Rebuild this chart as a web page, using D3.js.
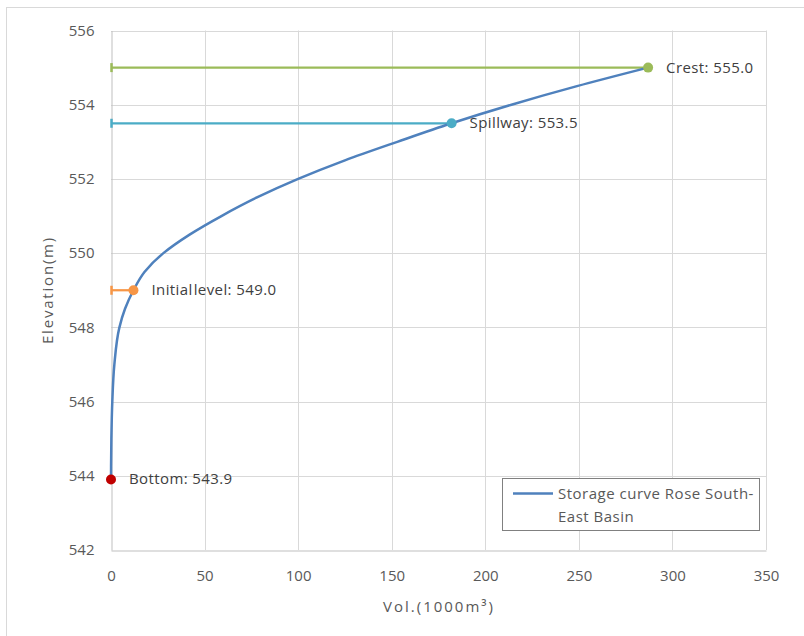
<!DOCTYPE html>
<html>
<head>
<meta charset="utf-8">
<script src="https://cdn.jsdelivr.net/npm/d3@7/dist/d3.min.js"></script>
<style>
  html, body { margin: 0; padding: 0; background: #fff; }
  svg { display: block; font-family: "Open Sans", "Noto Sans", sans-serif; }
</style>
</head>
<body>
<svg id="chart" width="804" height="636"></svg>
<script>
// Storage curve: volume (1000 m³) vs elevation (m)
const curveElev = [543.9, 545, 546, 547, 548, 548.5, 549, 549.5, 550, 550.5, 551, 551.5, 552, 552.5, 553, 553.5, 554, 554.5, 555];
const curveVol  = [0, 0.2, 0.7, 1.8, 4.5, 7.5, 12, 18, 28, 42, 59, 78, 100, 125, 153, 182, 214, 249, 287];

// Characteristic levels
const levelNames = ["Crest", "Spillway", "Initial level", "Bottom"];
const levelVol   = [287, 182, 12, 0];
const levelElev  = [555.0, 553.5, 549.0, 543.9];
const levelColor = ["#9BBB59", "#4BACC6", "#F79646", "#C00000"];
const levelLine  = [true, true, true, false];

const xTicks = [0, 50, 100, 150, 200, 250, 300, 350];
const yTicks = [542, 544, 546, 548, 550, 552, 554, 556];
const legendLines = ["Storage curve Rose South-", "East Basin"];

const svg = d3.select("#chart");

// outer chart frame
svg.append("rect").attr("x", 6.5).attr("y", 7.5).attr("width", 900).attr("height", 700)
  .attr("fill", "none").attr("stroke", "#d9d9d9").attr("stroke-width", 1);

const x = d3.scaleLinear().domain([0, 350]).range([111, 766]);
const y = d3.scaleLinear().domain([542, 556]).range([550, 30.5]);

// grid
const grid = svg.append("g");
grid.selectAll("line.v").data(xTicks.slice(1)).join("line")
  .attr("x1", d => Math.round(x(d)) + 0.5).attr("x2", d => Math.round(x(d)) + 0.5)
  .attr("y1", y(556)).attr("y2", y(542))
  .attr("stroke", "#d9d9d9").attr("stroke-width", 1);
grid.selectAll("line.h").data(yTicks.slice(1)).join("line")
  .attr("y1", d => Math.round(y(d)) + 0.5).attr("y2", d => Math.round(y(d)) + 0.5)
  .attr("x1", x(0)).attr("x2", x(350))
  .attr("stroke", "#d9d9d9").attr("stroke-width", 1);

// axes
const xAxis = svg.append("g").attr("transform", `translate(0,${Math.round(y(542)) + 0.5})`)
  .call(d3.axisBottom(x).tickValues(xTicks).tickSize(0).tickPadding(20));
const yAxis = svg.append("g").attr("transform", `translate(${Math.round(x(0)) + 0.5},0)`)
  .call(d3.axisLeft(y).tickValues(yTicks).tickSize(0).tickPadding(17));
[xAxis, yAxis].forEach(a => {
  a.select(".domain").attr("stroke", "#bfbfbf").attr("stroke-width", 1);
  a.selectAll("text").attr("fill", "#595959").style("font-size", "15px")
    .style("font-family", "'Open Sans', sans-serif");
});

// axis titles
svg.append("text").attr("x", 439).attr("y", 612).attr("text-anchor", "middle")
  .attr("fill", "#595959").style("font-size", "15px").style("letter-spacing", "2px")
  .text("Vol.(1000m³)");
svg.append("text").attr("transform", "translate(53,290) rotate(-90)")
  .attr("text-anchor", "middle").attr("fill", "#595959").style("font-size", "15px")
  .style("letter-spacing", "1.8px")
  .text("Elevation(m)");

// horizontal level lines from the axis to each point
const lv = levelNames.map((n, i) => ({ name: n, vol: levelVol[i], elev: levelElev[i], color: levelColor[i], line: levelLine[i] }));
const lvg = svg.append("g");
lv.filter(d => d.line).forEach(d => {
  lvg.append("line").attr("x1", x(0)).attr("x2", x(d.vol))
    .attr("y1", y(d.elev)).attr("y2", y(d.elev))
    .attr("stroke", d.color).attr("stroke-width", 2.25);
  lvg.append("line").attr("x1", x(0) + 0.5).attr("x2", x(0) + 0.5)
    .attr("y1", y(d.elev) - 4.5).attr("y2", y(d.elev) + 4.5)
    .attr("stroke", d.color).attr("stroke-width", 2.5);
});

// storage curve
const pts = curveVol.map((v, i) => [v, curveElev[i]]);
svg.append("path").datum(pts)
  .attr("d", d3.line().x(d => x(d[0])).y(d => y(d[1])).curve(d3.curveMonotoneY))
  .attr("fill", "none").attr("stroke", "#4F81BD").attr("stroke-width", 2.5)
  .attr("stroke-linecap", "round");

// level markers and labels
lv.forEach(d => {
  svg.append("circle").attr("cx", x(d.vol)).attr("cy", y(d.elev)).attr("r", 5)
    .attr("fill", d.color);
  const t = svg.append("text").attr("x", x(d.vol) + 18).attr("y", y(d.elev) + 5)
    .attr("fill", "#404040").style("font-size", "15px").style("letter-spacing", "0.4px");
  if (d.name === "Initial level") {
    t.append("tspan").text("Initial");
    t.append("tspan").attr("dx", 1).text(`level: ${d.elev.toFixed(1)}`);
  } else {
    t.text(`${d.name}: ${d.elev.toFixed(1)}`);
  }
});

// legend
const lg = svg.append("g");
lg.append("rect").attr("x", 502.5).attr("y", 478.5).attr("width", 257).attr("height", 52)
  .attr("fill", "#fff").attr("stroke", "#808080").attr("stroke-width", 1);
lg.append("line").attr("x1", 513).attr("x2", 553).attr("y1", 493.5).attr("y2", 493.5)
  .attr("stroke", "#4F81BD").attr("stroke-width", 2.5);
lg.selectAll("text").data(legendLines).join("text")
  .attr("x", 558).attr("y", (d, i) => 498.5 + i * 23)
  .attr("fill", "#595959").style("font-size", "15px").style("letter-spacing", "0.5px")
  .text(d => d);
</script>
</body>
</html>
